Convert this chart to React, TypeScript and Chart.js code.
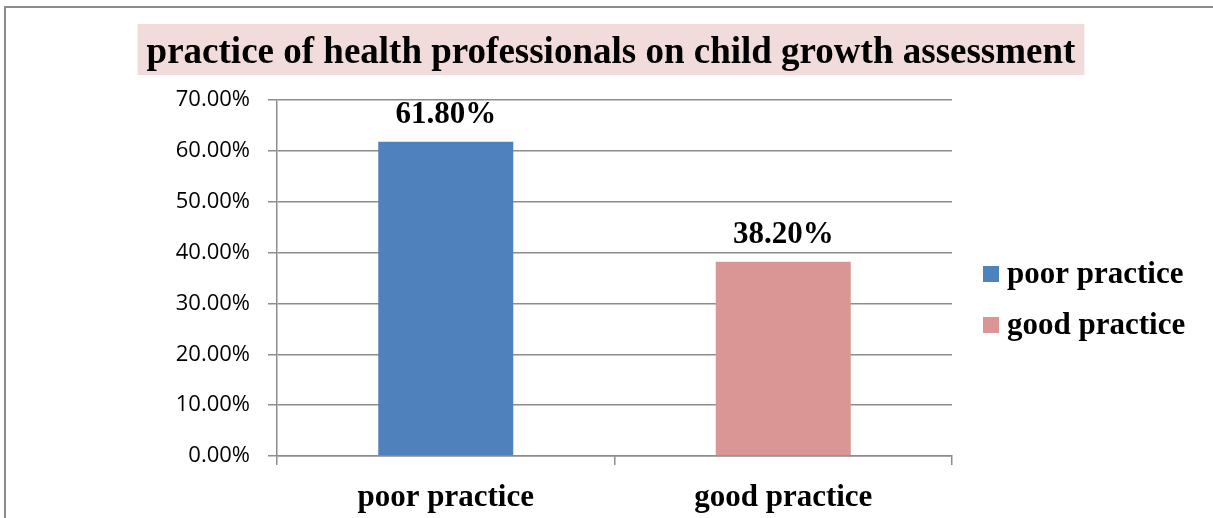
import React, { useEffect, useRef } from 'react';
import { Chart, registerables } from 'chart.js';

Chart.register(...registerables);

const chartTitle = 'practice of health professionals on child growth assessment';
const categories = ['poor practice', 'good practice'];
const values = [61.8, 38.2];
const barColors = ['#4F81BD', '#D99694'];
const yMin = 0;
const yMax = 70;
const yStep = 10;

const SERIF = '"Liberation Serif", "Times New Roman", serif';
const SANS = '"Open Sans", "Liberation Sans", sans-serif';
const GRID = '#8c8c8c';

export default function App() {
  const ref = useRef<HTMLCanvasElement>(null);

  useEffect(() => {
    const canvas = ref.current!;

    const framePlugin = {
      id: 'frame',
      beforeDraw(chart: any) {
        const ctx = chart.ctx;
        ctx.save();
        ctx.fillStyle = '#ffffff';
        ctx.fillRect(0, 0, chart.width, chart.height);
        ctx.strokeStyle = GRID;
        ctx.lineWidth = 2;
        ctx.strokeRect(5, 7, 1400, 1000);
        ctx.font = `bold 37px ${SERIF}`;
        const w = ctx.measureText(chartTitle).width;
        const cx = 611;
        ctx.fillStyle = '#F2DCDB';
        ctx.fillRect(cx - w / 2 - 9, 24, w + 18, 51);
        ctx.fillStyle = '#000000';
        ctx.textAlign = 'center';
        ctx.textBaseline = 'alphabetic';
        ctx.fillText(chartTitle, cx, 63);
        ctx.restore();
      },
    };

    const labelsPlugin = {
      id: 'valueLabels',
      afterDatasetsDraw(chart: any) {
        const ctx = chart.ctx;
        const meta = chart.getDatasetMeta(0);
        ctx.save();
        ctx.font = `bold 31px ${SERIF}`;
        ctx.fillStyle = '#000000';
        ctx.textAlign = 'center';
        ctx.textBaseline = 'alphabetic';
        meta.data.forEach((bar: any, i: number) => {
          ctx.fillText(values[i].toFixed(2) + '%', bar.x, bar.y - 19);
        });
        ctx.restore();
      },
    };

    const legendPlugin = {
      id: 'customLegend',
      afterDraw(chart: any) {
        const ctx = chart.ctx;
        ctx.save();
        ctx.font = `bold 31px ${SERIF}`;
        ctx.textAlign = 'left';
        ctx.textBaseline = 'alphabetic';
        categories.forEach((c, i) => {
          const y0 = 266 + i * 51;
          ctx.fillStyle = barColors[i];
          ctx.fillRect(983, y0, 16, 16);
          ctx.fillStyle = '#000000';
          ctx.fillText(c, 1007, y0 + 17);
        });
        ctx.restore();
      },
    };

    const chart = new Chart(canvas, {
      type: 'bar',
      data: {
        labels: categories,
        datasets: [
          {
            label: 'practice',
            data: values,
            backgroundColor: barColors,
            barPercentage: 0.8,
            categoryPercentage: 0.5,
          },
        ],
      },
      options: {
        responsive: false,
        animation: false,
        devicePixelRatio: 1,
        layout: { padding: { top: 100, right: 261, bottom: 0, left: 0 } },
        plugins: {
          legend: { display: false },
          title: { display: false },
          tooltip: { enabled: false },
        },
        scales: {
          x: {
            grid: { offset: true, drawOnChartArea: false, tickLength: 9, color: GRID, lineWidth: 1.5 },
            border: { color: GRID, width: 1.5 },
            ticks: { font: { family: SERIF, size: 31, weight: 'bold' }, color: '#000000', padding: 14 },
            afterFit: (s: any) => {
              s.height = 62;
            },
          },
          y: {
            min: yMin,
            max: yMax,
            ticks: {
              stepSize: yStep,
              callback: (v: any) => Number(v).toFixed(2) + '%',
              font: { family: SANS, size: 22 },
              color: '#000000',
              padding: 18,
            },
            grid: { tickLength: 9, color: GRID, lineWidth: 1.5 },
            border: { color: GRID, width: 1.5 },
            afterFit: (s: any) => {
              s.width = 277;
            },
          },
        },
      },
      plugins: [framePlugin, labelsPlugin, legendPlugin],
    } as any);

    return () => chart.destroy();
  }, []);

  return (
    <div style={{ position: 'absolute', left: 0, top: 0, width: 1213, height: 518 }}>
      <canvas ref={ref} width={1213} height={518} />
    </div>
  );
}
